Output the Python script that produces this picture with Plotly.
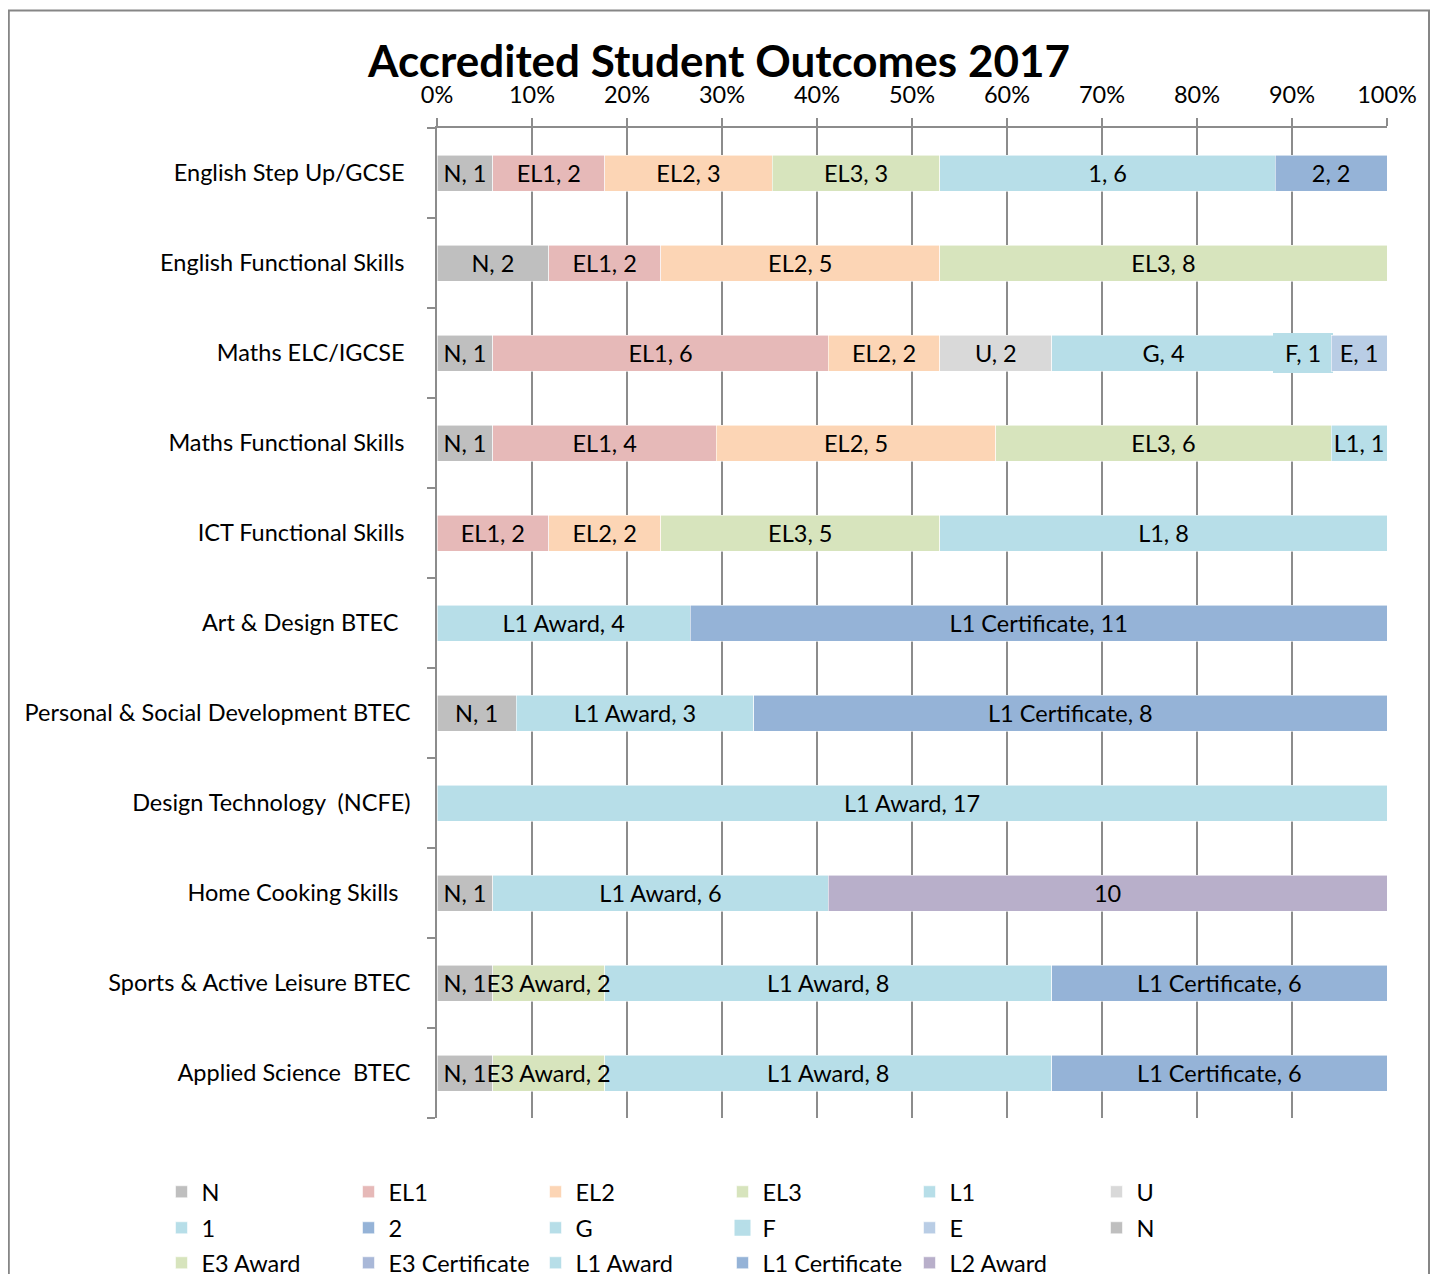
import plotly.graph_objects as go

categories = [
    "English Step Up/GCSE",
    "English Functional Skills",
    "Maths ELC/IGCSE",
    "Maths Functional Skills",
    "ICT Functional Skills",
    "Art & Design BTEC",
    "Personal & Social Development BTEC",
    "Design Technology \u00a0(NCFE)",
    "Home Cooking Skills",
    "Sports & Active Leisure BTEC",
    "Applied Science \u00a0BTEC",
]
# trailing padding reproduces the uneven label alignment of the original
tick_pad = [1, 1, 1, 1, 1, 2, 0, 0, 2, 0, 0]

x_ticks = list(range(0, 101, 10))
x_ticklabels = [f"{v}%" for v in x_ticks]

series_names = ["N", "EL1", "EL2", "EL3", "L1", "U", "1", "2", "G", "F", "E", "N",
                "E3 Award", "E3 Certificate", "L1 Award", "L1 Certificate", "L2 Award"]

N_a      = [1, 2, 1, 1, 0, 0, 0, 0, 0, 0, 0]
EL1      = [2, 2, 6, 4, 2, 0, 0, 0, 0, 0, 0]
EL2      = [3, 5, 2, 5, 2, 0, 0, 0, 0, 0, 0]
EL3      = [3, 8, 0, 6, 5, 0, 0, 0, 0, 0, 0]
L1       = [0, 0, 0, 1, 8, 0, 0, 0, 0, 0, 0]
U        = [0, 0, 2, 0, 0, 0, 0, 0, 0, 0, 0]
G1       = [6, 0, 0, 0, 0, 0, 0, 0, 0, 0, 0]
G2       = [2, 0, 0, 0, 0, 0, 0, 0, 0, 0, 0]
G        = [0, 0, 4, 0, 0, 0, 0, 0, 0, 0, 0]
F        = [0, 0, 1, 0, 0, 0, 0, 0, 0, 0, 0]
E        = [0, 0, 1, 0, 0, 0, 0, 0, 0, 0, 0]
N_b      = [0, 0, 0, 0, 0, 0, 1, 0, 1, 1, 1]
E3_award = [0, 0, 0, 0, 0, 0, 0, 0, 0, 2, 2]
E3_cert  = [0, 0, 0, 0, 0, 0, 0, 0, 0, 0, 0]
L1_award = [0, 0, 0, 0, 0, 4, 3, 17, 6, 8, 8]
L1_cert  = [0, 0, 0, 0, 0, 11, 8, 0, 0, 6, 6]
L2_award = [0, 0, 0, 0, 0, 0, 0, 0, 10, 0, 0]

series_values = [N_a, EL1, EL2, EL3, L1, U, G1, G2, G, F, E, N_b,
                 E3_award, E3_cert, L1_award, L1_cert, L2_award]
colors = ["#BFBFBF", "#E6B9B8", "#FCD5B5", "#D7E4BD", "#B7DEE8", "#D9D9D9",
          "#B7DEE8", "#95B3D7", "#B7DEE8", "#B7DEE8", "#B9CDE5", "#BFBFBF",
          "#D7E4BD", "#A9B8D8", "#B7DEE8", "#95B3D7", "#B8AFCA"]
name_in_label = [True] * 16 + [False]
legend_rows = ["legend"] * 6 + ["legend2"] * 6 + ["legend3"] * 5

FONT = "Lato"
FS = 23.5
GRID = "#8C8C8C"

fig = go.Figure()
# coloured bars (no text)
for name, vals, col, lg in zip(series_names, series_values, colors, legend_rows):
    xs = [v if v else None for v in vals]
    line = dict(color="rgba(255,255,255,0.7)", width=0.8)
    if name == "F":
        line = dict(color=col, width=4)
    fig.add_trace(go.Bar(
        y=categories, x=xs, name=name, orientation="h", legend=lg,
        marker=dict(color=col, line=line), hoverinfo="name+x",
    ))
# identical transparent stack on an overlaid subplot carrying the data labels,
# so labels are drawn above every bar (as in the original)
for name, vals, show_name in zip(series_names, series_values, name_in_label):
    xs = [v if v else None for v in vals]
    texts = [(f"{name}, {v}" if show_name else f"{v}") if v else "" for v in vals]
    fig.add_trace(go.Bar(
        y=categories, x=xs, name=name, orientation="h", xaxis="x2", yaxis="y2",
        marker=dict(color="rgba(0,0,0,0)", line=dict(width=0)), showlegend=False,
        text=texts, textposition="inside", insidetextanchor="middle",
        textangle=0, constraintext="none",
        textfont=dict(family=FONT, size=FS, color="black"),
        hoverinfo="skip",
    ))

ticktext = [c + "\u00a0" * p for c, p in zip(categories, tick_pad)]

W, H = 1422, 1272
ML, MR, MT = 429, 43, 120
PH = 990
MB = H - MT - PH
PW = W - ML - MR
PLOT_BOTTOM = MT + PH


def legend_at(top_px):
    return dict(orientation="h", x=(153.5 - ML) / PW, xanchor="left",
                y=-(top_px - PLOT_BOTTOM) / PH, yanchor="top",
                entrywidth=142, entrywidthmode="pixels", traceorder="normal",
                font=dict(family=FONT, size=FS, color="black"),
                bgcolor="rgba(0,0,0,0)")


fig.update_layout(
    width=W, height=H,
    margin=dict(l=ML, r=MR, t=MT, b=MB, autoexpand=False),
    paper_bgcolor="white", plot_bgcolor="white",
    barmode="stack", barnorm="percent", bargap=0.6,
    font=dict(family=FONT, size=FS, color="black"),
    uniformtext=dict(mode="show", minsize=FS),
    title=dict(text="Accredited Student Outcomes 2017", x=0.5, xanchor="center",
               y=1 - 54 / H, yanchor="middle",
               font=dict(family=FONT, size=44, color="black", weight="bold")),
    xaxis=dict(side="top", range=[0, 100], tickmode="array", tickvals=x_ticks,
               ticktext=x_ticklabels, showgrid=True, gridcolor=GRID, gridwidth=1.5,
               showline=True, linecolor=GRID, linewidth=1.5, ticks="outside",
               ticklen=8, tickcolor=GRID, tickwidth=1.5, zeroline=False,
               ticklabelstandoff=6,
               tickfont=dict(family=FONT, size=FS, color="black"), fixedrange=True),
    yaxis=dict(autorange="reversed", tickmode="array", tickvals=categories,
               ticktext=ticktext, showline=True, linecolor=GRID, linewidth=1.5,
               ticks="outside", tickson="boundaries", ticklen=8, tickcolor=GRID,
               tickwidth=1.5, showgrid=False, ticklabelstandoff=20,
               tickfont=dict(family=FONT, size=FS, color="black"), fixedrange=True),
    xaxis2=dict(overlaying="x", matches="x", visible=False, fixedrange=True),
    yaxis2=dict(overlaying="y", matches="y", visible=False, fixedrange=True),
    legend=legend_at(1162),
    legend2=legend_at(1198),
    legend3=legend_at(1233),
    showlegend=True,
)

# outer chart frame
fig.add_shape(type="rect", xref="paper", yref="paper",
              x0=(0.8 - ML) / PW, x1=(W - 1.0 - ML) / PW,
              y0=1 - (H + 40 - MT) / PH, y1=1 - (2.5 - MT) / PH,
              line=dict(color="#868686", width=2), fillcolor="rgba(0,0,0,0)", layer="above")

fig.write_html(
    "out.html",
    post_script="document.documentElement.style.overflow='hidden';"
                "document.body.style.overflow='hidden';",
)
